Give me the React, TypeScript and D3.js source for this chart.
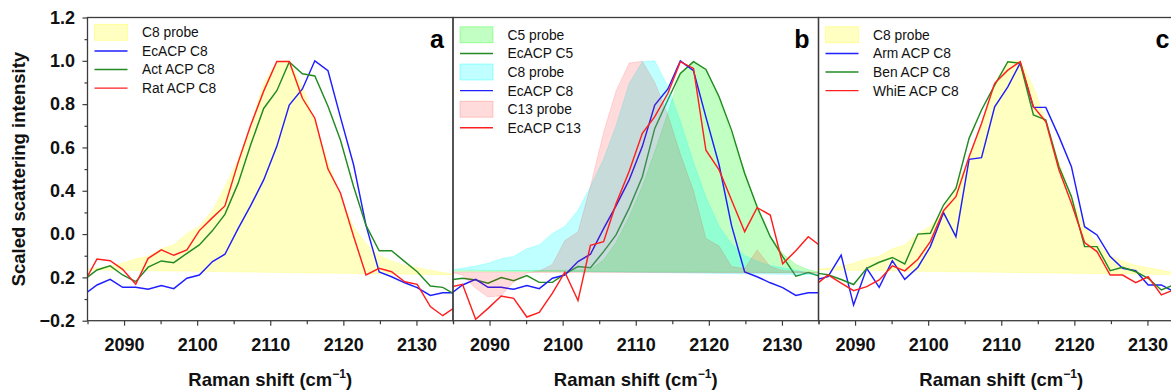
import { useEffect, useRef } from 'react'
import * as d3 from 'd3'

// Raman shift sampling (cm-1), shared by every spectrum
const shifts = [2084.6, 2086.3, 2088.1, 2089.8, 2091.6, 2093.3, 2095.1, 2096.8, 2098.6, 2100.3,
  2102.1, 2103.8, 2105.6, 2107.3, 2109.1, 2110.9, 2112.6, 2114.4, 2116.1, 2117.9,
  2119.6, 2121.4, 2123.1, 2124.9, 2126.6, 2128.4, 2130.1, 2131.9, 2133.6, 2135.4]

// probes (filled)
const c8Probe = [0.035, 0.042, 0.052, 0.065, 0.086, 0.097, 0.132, 0.15, 0.203, 0.235,
  0.31, 0.419, 0.545, 0.70, 0.895, 0.996, 1.0, 0.88, 0.72, 0.53,
  0.37, 0.235, 0.155, 0.1, 0.075, 0.055, 0.045, 0.033, 0.022, 0.012]
const c5Probe = [0.03, 0.03, 0.03, 0.03, 0.03, 0.031, 0.031, 0.032, 0.032, 0.033,
  0.034, 0.036, 0.08, 0.16, 0.28, 0.42, 0.58, 0.76, 0.94, 1.0,
  0.96, 0.83, 0.66, 0.49, 0.32, 0.19, 0.11, 0.06, 0.035, 0.022]
const c13Probe = [0.025, 0.01, -0.05, -0.09, -0.085, -0.02, 0.02, 0.03, 0.06, 0.17,
  0.21, 0.42, 0.67, 0.86, 0.99, 0.998, 0.9, 0.75, 0.57, 0.40,
  0.18, 0.145, 0.05, 0.04, 0.127, 0.05, 0.032, 0.028, 0.024, 0.02]

// ACP spectra (lines)
const ecAcpC8 = [-0.078, -0.035, -0.009, -0.046, -0.046, -0.055, -0.038, -0.052, -0.004, 0.011,
  0.073, 0.107, 0.225, 0.33, 0.45, 0.605, 0.796, 0.87, 1.0, 0.954,
  0.74, 0.52, 0.24, 0.025, 0.003, -0.025, -0.047, -0.083, -0.071, -0.071]
const actAcpC8 = [-0.009, 0.034, 0.053, 0.011, -0.02, 0.047, 0.076, 0.068, 0.111, 0.15,
  0.216, 0.291, 0.434, 0.61, 0.78, 0.862, 0.995, 0.94, 0.93, 0.79,
  0.634, 0.42, 0.24, 0.123, 0.123, 0.073, 0.026, -0.04, -0.046, -0.081]
const ratAcpC8 = [-0.02, 0.085, 0.077, 0.037, -0.032, 0.088, 0.127, 0.102, 0.127, 0.216,
  0.276, 0.33, 0.53, 0.70, 0.86, 0.997, 0.997, 0.827, 0.735, 0.50,
  0.39, 0.19, 0.011, 0.042, 0.026, -0.02, -0.032, -0.135, -0.177, -0.135]
const ecAcpC5 = [-0.012, -0.004, -0.012, -0.027, -0.001, -0.015, 0.008, -0.023, -0.023, 0.016,
  0.05, 0.045, 0.119, 0.196, 0.32, 0.465, 0.688, 0.82, 0.942, 0.996,
  0.96, 0.834, 0.68, 0.48, 0.326, 0.188, 0.096, 0.006, 0.022, 0.003]
const ecAcpC13 = [-0.045, -0.032, -0.193, -0.143, -0.086, -0.097, -0.183, -0.162, -0.073, 0.024,
  -0.107, 0.148, 0.165, 0.34, 0.49, 0.665, 0.742, 0.85, 0.996, 0.965,
  0.587, 0.496, 0.357, 0.211, 0.322, 0.288, 0.063, 0.123, 0.188, 0.142]
const armAcpC8 = [-0.012, 0.003, 0.103, -0.128, 0.042, -0.046, 0.077, -0.009, 0.047, 0.142,
  0.299, 0.188, 0.545, 0.553, 0.788, 0.88, 0.99, 0.785, 0.785, 0.65,
  0.511, 0.234, 0.196, 0.096, 0.042, 0.031, -0.035, -0.035, -0.066, -0.07]
const benAcpC8 = [0.02, 0.012, -0.01, -0.033, 0.042, 0.07, 0.092, 0.062, 0.2, 0.204,
  0.334, 0.411, 0.642, 0.773, 0.888, 0.996, 0.989, 0.75, 0.727, 0.511,
  0.373, 0.142, 0.142, 0.031, 0.047, 0.026, -0.004, -0.058, -0.035, -0.03]
const whiEAcpC8 = [-0.035, 0.011, -0.027, -0.061, -0.043, -0.012, 0.053, 0.03, 0.084, 0.165,
  0.308, 0.373, 0.557, 0.711, 0.896, 0.957, 0.996, 0.788, 0.719, 0.496,
  0.342, 0.161, 0.119, 0.011, 0.011, -0.024, 0.003, -0.081, -0.058, -0.06]

const xTicks = [2090, 2100, 2110, 2120, 2130]
const xMinorTicks = [2085, 2095, 2105, 2115, 2125, 2135]
const yTicks = [-0.2, 0, 0.2, 0.4, 0.6, 0.8, 1.0, 1.2]
const yTickLabels = ['\u22120.2', '0.2', '0.0', '0.4', '0.6', '0.8', '1.0', '1.2']
const yMinorTicks = [-0.1, 0.1, 0.3, 0.5, 0.7, 0.9, 1.1]

const BLUE = '#1f1fff'
const GREEN = '#238b23'
const RED = '#ff1f1f'

type Item = { label: string, kind: 'fill' | 'line', values: number[], color: string, opacity?: number }

const panels: { letter: string, legendTop: number, items: Item[] }[] = [
  {
    letter: 'a', legendTop: 32.3, items: [
      { label: 'C8 probe', kind: 'fill', values: c8Probe, color: '#ffff00', opacity: 0.24 },
      { label: 'EcACP C8', kind: 'line', values: ecAcpC8, color: BLUE },
      { label: 'Act ACP C8', kind: 'line', values: actAcpC8, color: GREEN },
      { label: 'Rat ACP C8', kind: 'line', values: ratAcpC8, color: RED },
    ],
  },
  {
    letter: 'b', legendTop: 34.8, items: [
      { label: 'C5 probe', kind: 'fill', values: c5Probe, color: '#00ff00', opacity: 0.24 },
      { label: 'EcACP C5', kind: 'line', values: ecAcpC5, color: GREEN },
      { label: 'C8 probe', kind: 'fill', values: c8Probe, color: '#00ffff', opacity: 0.25 },
      { label: 'EcACP C8', kind: 'line', values: ecAcpC8, color: BLUE },
      { label: 'C13 probe', kind: 'fill', values: c13Probe, color: '#ff0000', opacity: 0.14 },
      { label: 'EcACP C13', kind: 'line', values: ecAcpC13, color: RED },
    ],
  },
  {
    letter: 'c', legendTop: 34.8, items: [
      { label: 'C8 probe', kind: 'fill', values: c8Probe, color: '#ffff00', opacity: 0.24 },
      { label: 'Arm ACP C8', kind: 'line', values: armAcpC8, color: BLUE },
      { label: 'Ben ACP C8', kind: 'line', values: benAcpC8, color: GREEN },
      { label: 'WhiE ACP C8', kind: 'line', values: whiEAcpC8, color: RED },
    ],
  },
]

export default function App() {
  const ref = useRef<SVGSVGElement>(null)

  useEffect(() => {
    if (!ref.current) return
    const svg = d3.select(ref.current)
    svg.selectAll('*').remove()

    const W = 1171
    const font = "'Liberation Sans', Arial, Helvetica, sans-serif"
    const axisColor = '#3c3c3c'
    const top = 17.5
    const bottom = 320.7
    const left0 = 87.5
    const panelW = 365.5

    const y = d3.scaleLinear().domain([-0.2, 1.2]).range([bottom, top])

    panels.forEach((p, pi) => {
      const x0 = left0 + pi * panelW
      const x = d3.scaleLinear().domain([2085, 2135]).range([x0, x0 + panelW])
      const clipId = `clip-${pi}`
      svg.append('clipPath').attr('id', clipId)
        .append('rect')
        .attr('x', x0).attr('y', top)
        .attr('width', panelW).attr('height', bottom - top)

      const g = svg.append('g').attr('clip-path', `url(#${clipId})`)
      const line = d3.line<number>().x((_, i) => x(shifts[i])).y(d => y(d))

      p.items.forEach(it => {
        if (it.kind === 'fill') {
          g.append('path')
            .attr('d', line(it.values) + 'Z')
            .attr('fill', it.color).attr('fill-opacity', it.opacity!)
            .attr('stroke', it.color).attr('stroke-opacity', it.opacity! * 1.1)
            .attr('stroke-width', 0.8)
        } else {
          g.append('path')
            .attr('d', line(it.values))
            .attr('fill', 'none')
            .attr('stroke', it.color)
            .attr('stroke-width', 1.45)
            .attr('stroke-linejoin', 'miter')
        }
      })

      // legend
      const lg = svg.append('g')
      p.items.forEach((it, i) => {
        const cy = p.legendTop + i * 18.6
        if (it.kind === 'fill') {
          lg.append('rect')
            .attr('x', x0 + 7).attr('y', cy - 8)
            .attr('width', 33).attr('height', 16)
            .attr('fill', it.color).attr('fill-opacity', it.opacity!)
            .attr('stroke', it.color).attr('stroke-opacity', it.opacity! * 1.6)
            .attr('stroke-width', 0.8)
        } else {
          lg.append('line')
            .attr('x1', x0 + 7).attr('x2', x0 + 40)
            .attr('y1', cy).attr('y2', cy)
            .attr('stroke', it.color).attr('stroke-width', 1.45)
        }
        lg.append('text')
          .attr('x', x0 + 54.5).attr('y', cy + 4.9)
          .style('font-family', font).style('font-size', '13.8px')
          .style('fill', '#111')
          .text(it.label)
      })

      // panel letter (kept inside the window for the clipped last panel)
      svg.append('text')
        .attr('x', Math.min(x0 + panelW - 9, W - 1.5)).attr('y', 48.3)
        .attr('text-anchor', 'end')
        .style('font-family', font).style('font-size', '25px').style('font-weight', '700')
        .text(p.letter)

      // frame
      svg.append('rect')
        .attr('x', x0).attr('y', top)
        .attr('width', panelW).attr('height', bottom - top)
        .attr('fill', 'none').attr('stroke', axisColor).attr('stroke-width', 1.3)

      // x axis
      const xa = svg.append('g')
        .attr('transform', `translate(0,${bottom})`)
        .call(d3.axisBottom(x).tickValues(xTicks).tickSize(5).tickSizeOuter(0).tickPadding(13).tickFormat(d3.format('d')))
      xa.select('.domain').remove()
      xa.selectAll('line').attr('stroke', axisColor).attr('stroke-width', 1.2)
      xa.selectAll('text')
        .style('font-family', font).style('font-size', '18px').style('font-weight', '700')
        .attr('fill', '#111')

      const xm = svg.append('g')
        .attr('transform', `translate(0,${bottom})`)
        .call(d3.axisBottom(x).tickValues(xMinorTicks).tickSize(3.5).tickSizeOuter(0).tickFormat(() => ''))
      xm.select('.domain').remove()
      xm.selectAll('line').attr('stroke', axisColor).attr('stroke-width', 1.2)

      // x title
      const xt = svg.append('text')
        .attr('x', x0 + panelW / 2).attr('y', 386)
        .attr('text-anchor', 'middle')
        .style('font-family', font).style('font-size', '18.5px').style('font-weight', '700')
        .attr('fill', '#111')
      xt.append('tspan').text('Raman shift (cm')
      xt.append('tspan').attr('dy', -8).style('font-size', '12px').text('\u22121')
      xt.append('tspan').attr('dy', 8).text(')')
    })

    // y axis
    const ya = svg.append('g')
      .attr('transform', `translate(${left0},0)`)
      .call(d3.axisLeft(y).tickValues(yTicks).tickSize(5).tickSizeOuter(0).tickPadding(7.5)
        .tickFormat((_, i) => yTickLabels[i]))
    ya.select('.domain').remove()
    ya.selectAll('line').attr('stroke', axisColor).attr('stroke-width', 1.2)
    ya.selectAll('text')
      .style('font-family', font).style('font-size', '18px').style('font-weight', '700')
      .attr('fill', '#111')

    const ym = svg.append('g')
      .attr('transform', `translate(${left0},0)`)
      .call(d3.axisLeft(y).tickValues(yMinorTicks).tickSize(3).tickSizeOuter(0).tickFormat(() => ''))
    ym.select('.domain').remove()
    ym.selectAll('line').attr('stroke', axisColor).attr('stroke-width', 1.2)

    svg.append('text')
      .attr('transform', `translate(25,${(top + bottom) / 2}) rotate(-90)`)
      .attr('text-anchor', 'middle')
      .style('font-family', font).style('font-size', '18.5px').style('font-weight', '700')
      .attr('fill', '#111')
      .text('Scaled scattering intensity')
  }, [])

  return (
    <svg ref={ref} width={1171} height={391}
      style={{ position: 'absolute', left: 0, top: 0, background: '#fff' }} />
  )
}
